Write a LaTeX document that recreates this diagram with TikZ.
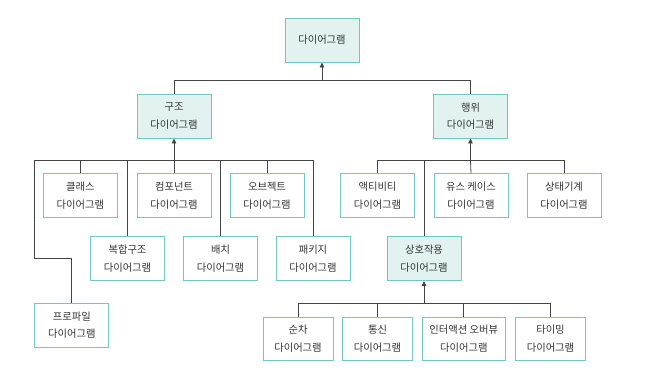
\documentclass[tikz,border=0pt]{standalone}
\usepackage{fontspec}
\setmainfont{Noto Sans CJK KR}
\usetikzlibrary{arrows.meta}
\definecolor{boxline}{HTML}{72C6C4}
\definecolor{boxfill}{HTML}{E2F2F1}
\definecolor{conn}{HTML}{444444}
\definecolor{txt}{HTML}{333333}
\tikzset{
  dbox/.style={draw=boxline, line width=0.9pt, fill=white, minimum width=74pt, minimum height=44pt,
    align=center, inner sep=0pt, text=txt, font=\fontsize{10.3}{17.5}\selectfont},
  fbox/.style={dbox, fill=boxfill},
  sbox/.style={dbox, minimum width=70pt, minimum height=43pt},
  conline/.style={draw=conn, line width=0.8pt},
  upar/.style={conline, -{Triangle[width=4.5pt,length=5pt]}}
}
\begin{document}
\begin{tikzpicture}[x=1pt,y=-1pt]
\useasboundingbox (0,0) rectangle (648,373);
% nodes
\node[fbox] (top) at (322,40) {다이어그램};
\node[fbox] (gujo) at (174,116) {구조\\다이어그램};
\node[fbox] (haeng) at (470.5,116) {행위\\다이어그램};
\node[dbox] (cls) at (80.3,195.8) {클래스\\다이어그램};
\node[dbox] (comp) at (174,195.8) {컴포넌트\\다이어그램};
\node[dbox] (obj) at (267,195.8) {오브젝트\\다이어그램};
\node[dbox] (comb) at (127.5,258.5) {복합구조\\다이어그램};
\node[dbox] (depl) at (220.5,258.5) {배치\\다이어그램};
\node[dbox] (pkg) at (313,258.5) {패키지\\다이어그램};
\node[dbox] (prof) at (71.8,325.3) {프로파일\\다이어그램};
\node[dbox] (act) at (377.5,195.8) {액티비티\\다이어그램};
\node[dbox] (use) at (471,195.8) {유스 케이스\\다이어그램};
\node[dbox] (stm) at (564,195.8) {상태기계\\다이어그램};
\node[fbox] (inter) at (424,258.5) {상호작용\\다이어그램};
\node[sbox] (seq) at (298,338.7) {순차\\다이어그램};
\node[sbox] (comm) at (377.5,338.7) {통신\\다이어그램};
\node[sbox, minimum width=83pt] (iov) at (463.8,338.7) {인터액션 오버뷰\\다이어그램};
\node[sbox] (tim) at (550.5,338.7) {타이밍\\다이어그램};
% bus coordinates
\coordinate (b0) at (322,80);
\coordinate (b1) at (174,160.7);
\coordinate (b2) at (470.5,160.7);
\coordinate (b3) at (424,303.3);
\coordinate (pk1) at (71.8,258.3);
\coordinate (pk2) at (34.3,258.3);
\coordinate (pk3) at (34.3,160.7);
% top level
\draw[upar] (b0) -- (top.south);
\draw[conline] (gujo.north) |- (b0);
\draw[conline] (haeng.north) |- (b0);
% structure
\draw[upar] (b1) -- (gujo.south);
\draw[conline] (cls.north) |- (b1);
\draw[conline] (comp.north) -- (b1);
\draw[conline] (obj.north) |- (b1);
\draw[conline] (comb.north) |- (b1);
\draw[conline] (depl.north) |- (b1);
\draw[conline] (pkg.north) |- (b1);
\draw[conline] (prof.north) -- (pk1) -- (pk2) -- (pk3) -- (b1);
% behaviour
\draw[upar] (b2) -- (haeng.south);
\draw[conline] (act.north) |- (b2);
\draw[conline] (use.north) -- (b2);
\draw[conline] (stm.north) |- (b2);
\draw[conline] (inter.north) |- (b2);
% interaction
\draw[upar] (b3) -- (inter.south);
\draw[conline] (seq.north) |- (b3);
\draw[conline] (comm.north) |- (b3);
\draw[conline] (iov.north) |- (b3);
\draw[conline] (tim.north) |- (b3);
\end{tikzpicture}
\end{document}
